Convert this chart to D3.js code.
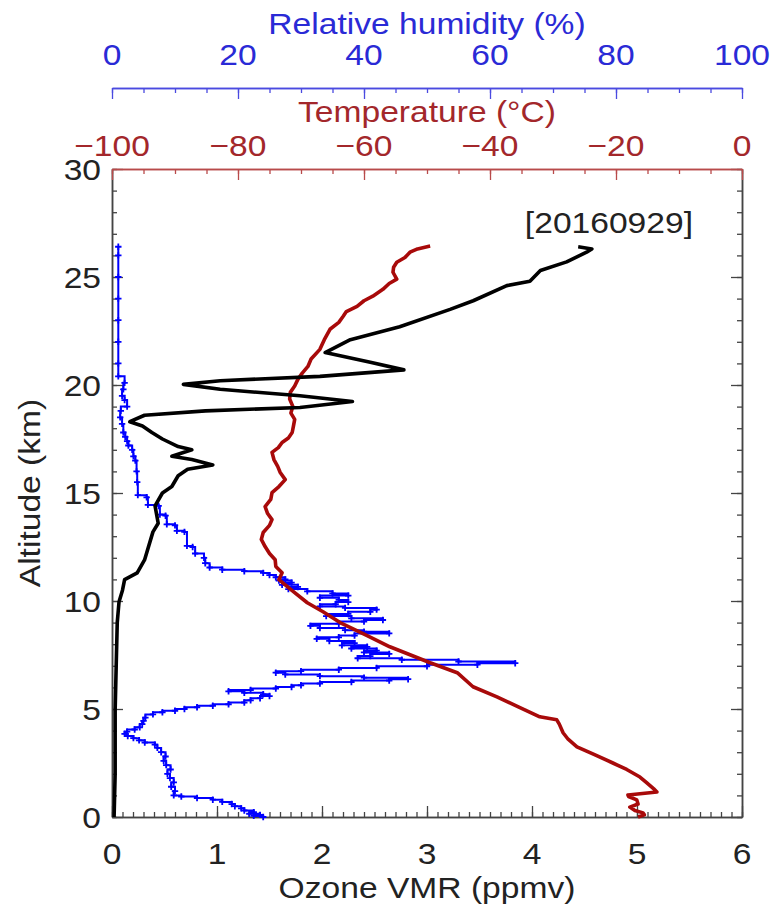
<!DOCTYPE html>
<html>
<head>
<meta charset="utf-8">
<script src="https://cdn.jsdelivr.net/npm/d3@7"></script>
<style>
body { margin: 0; background: #fff; }
text { font-family: "Liberation Sans", Arial, Helvetica, sans-serif; }
</style>
</head>
<body>
<div id="chart"></div>
<script>
// ozone profile (black)
const ozoneAlt = [0.0, 2.0, 4.96, 7.0, 9.0, 9.97, 10.5, 10.99, 11.3, 11.9, 13.2, 13.6, 14.4, 15.0, 15.3, 15.8, 16.1, 16.3,
  16.55, 16.7, 17.0, 17.15, 17.5, 17.8, 18.1, 18.3, 18.6, 18.8, 18.96, 19.24, 19.5, 19.8, 20.03, 20.2, 20.4, 20.7,
  21.05, 21.5, 22.1, 22.7, 23.5, 23.9, 24.6, 24.8, 25.3, 25.7, 26.15, 26.3, 26.4];
const ozoneVmr = [0.02, 0.03, 0.03, 0.04, 0.05, 0.067, 0.10, 0.12, 0.24, 0.31, 0.39, 0.44, 0.41, 0.48, 0.57, 0.63, 0.72, 0.96,
  0.76, 0.57, 0.76, 0.63, 0.48, 0.38, 0.29, 0.17, 0.31, 0.89, 1.79, 2.29, 1.79, 1.03, 0.68, 1.03, 1.98, 2.78,
  2.46, 2.03, 2.27, 2.74, 3.22, 3.44, 3.76, 3.98, 4.08, 4.33, 4.52, 4.57, 4.44];

// temperature profile (dark red)
const tempAlt = [0.0, 0.1, 0.19, 0.3, 0.46, 0.6, 0.79, 0.95, 1.02, 1.16, 1.3, 1.58, 1.85, 2.2, 2.5, 2.9, 3.25, 3.6, 3.9,
  4.3, 4.5, 4.64, 5.1, 5.56, 6.03, 6.68, 7.14, 7.88, 8.4, 9.0, 9.5, 9.92, 10.5, 10.99, 11.31, 11.6, 11.91, 12.2,
  12.52, 12.85, 13.17, 13.5, 13.77, 14.05, 14.37, 14.7, 15.02, 15.3, 15.62, 15.95, 16.23, 16.55, 16.88, 17.1,
  17.34, 17.55, 17.8, 18.1, 18.41, 18.7, 19.01, 19.35, 19.66, 19.95, 20.26, 20.55, 20.86, 21.2, 21.65, 22.1,
  22.58, 22.9, 23.18, 23.4, 23.64, 23.9, 24.11, 24.43, 24.7, 24.9, 25.22, 25.45, 25.68, 25.9, 26.15, 26.3, 26.43];
const tempC = [-16.5, -15.5, -15.7, -17.0, -17.8, -16.5, -16.7, -18.0, -18.1, -13.5, -14.0, -15.1, -16.2, -18.3, -20.5,
  -23.5, -26.2, -27.6, -28.4, -29.0, -29.4, -32.1, -35.5, -38.9, -42.7, -45.2, -49.5, -55.9, -59.5, -63.8, -66.5,
  -69.0, -71.5, -73.5, -73.0, -74.0, -74.1, -75.0, -75.7, -76.3, -76.0, -75.0, -74.6, -75.3, -75.7, -74.8, -74.6,
  -73.5, -72.5, -73.3, -73.7, -74.3, -74.6, -73.6, -73.0, -72.0, -71.4, -71.2, -71.0, -71.6, -71.3, -71.8, -71.7,
  -71.0, -70.5, -69.8, -68.9, -68.4, -67.0, -66.3, -65.4, -64.0, -63.3, -62.8, -61.1, -60.0, -58.6, -57.0, -56.0,
  -54.8, -55.4, -55.3, -54.8, -53.5, -52.7, -51.5, -49.5];

// relative humidity profile (blue)
const rhAlt = [0.0, 0.05, 0.1, 0.15, 0.22, 0.3, 0.4, 0.5, 0.6, 0.7, 0.8, 0.88, 0.95, 1.0, 1.2, 1.4, 1.6, 1.8, 2.0, 2.2,
  2.4, 2.6, 2.8, 3.0, 3.2, 3.35, 3.45, 3.55, 3.65, 3.75, 3.85, 3.95, 4.05, 4.15, 4.3, 4.45, 4.6, 4.75, 4.85, 4.92,
  5.0, 5.08, 5.15, 5.22, 5.3, 5.4, 5.5, 5.6, 5.68, 5.75, 5.82, 5.88, 5.95, 6.02, 6.1, 6.18, 6.25, 6.32, 6.38, 6.45,
  6.52, 6.6, 6.68, 6.75, 6.82, 6.9, 6.98, 7.05, 7.12, 7.2, 7.28, 7.35, 7.45, 7.55, 7.62, 7.7, 7.8, 7.88, 7.95, 8.05,
  8.15, 8.25, 8.32, 8.4, 8.5, 8.58, 8.65, 8.75, 8.85, 8.95, 9.05, 9.12, 9.2, 9.3, 9.4, 9.5, 9.6, 9.68, 9.75, 9.85,
  9.95, 10.05, 10.15, 10.25, 10.35, 10.45, 10.55, 10.65, 10.75, 10.85, 10.95, 11.0, 11.1, 11.2, 11.3, 11.38, 11.45,
  11.55, 11.75, 12.0, 12.2, 12.5, 12.55, 13.2, 13.25, 13.5, 13.55, 13.95, 14.0, 14.4, 14.45, 14.8, 14.9, 15.5, 16.0,
  16.5, 16.7, 17.0, 17.2, 17.4, 17.6, 17.8, 18.2, 18.5, 18.8, 19.0, 19.3, 19.5, 19.8, 20.1, 20.4, 21.0, 22.0, 23.0,
  24.0, 25.0, 26.0, 26.4];
const rhPct = [24.0, 22.5, 23.5, 21.8, 22.5, 21.0, 20.5, 19.5, 19.0, 17.5, 16.0, 13.5, 11.0, 9.8, 10.0, 9.4, 9.8, 9.2, 8.8, 9.3,
  8.6, 8.2, 8.5, 7.8, 7.2, 6.8, 5.2, 4.3, 3.4, 2.5, 2.0, 2.4, 3.6, 4.4, 4.8, 5.0, 5.3, 6.5, 8.0, 10.0,
  11.5, 13.5, 16.0, 18.5, 21.0, 22.0, 23.5, 25.0, 24.0, 21.0, 18.5, 22.0, 26.0, 28.5, 30.0, 33.0, 38.0, 44.0, 47.0, 40.0,
  33.0, 27.5, 26.0, 30.0, 36.0, 42.0, 50.0, 58.0, 64.0, 55.0, 46.0, 39.0, 41.0, 44.0, 40.0, 42.0, 38.0, 40.5, 36.5, 38.5,
  34.5, 32.5, 36.0, 38.5, 44.0, 40.0, 37.0, 33.0, 31.5, 36.0, 40.0, 43.0, 38.0, 34.0, 37.5, 41.0, 42.0, 37.0, 33.0, 35.5,
  37.5, 36.0, 33.0, 37.5, 35.0, 31.0, 28.0, 29.5, 27.0, 28.5, 26.5, 27.5, 26.0, 25.0, 24.0, 21.0, 17.5,
  15.5, 14.8, 14.6, 13.2, 12.8, 11.9, 11.5, 10.3, 10.0, 8.7, 8.5, 7.6, 7.4, 5.7, 5.5, 4.1, 4.0, 3.9,
  3.7, 3.4, 3.2, 2.6, 2.4, 2.1, 1.8, 1.6, 1.3, 1.4, 2.4, 2.0, 1.6, 1.8, 2.0, 1.0, 1.0, 1.0, 1.0,
  1.0, 1.0, 1.0, 1.0];

// tick labels
const altTicks = [0, 5, 10, 15, 20, 25, 30];
const ozoneTicks = [0, 1, 2, 3, 4, 5, 6];
const tempTicks = [-100, -80, -60, -40, -20, 0];
const rhTicks = [0, 20, 40, 60, 80, 100];
const dateLabel = "[20160929]";

const W = 777, H = 911;
const plotLeft = 112, plotRight = 742, plotTop = 169, plotBottom = 817;
const humAxisY = 88;
const stretch = 1.12, fs = 30;

const blueText = "#2a2ad6", redText = "#a3272b";
const blueLine = "#0000ff", redLine = "#a80a0a";

const svg = d3.select("#chart").append("svg")
  .attr("width", W).attr("height", H);

const x = d3.scaleLinear().domain([0, 6]).range([plotLeft, plotRight]);
const t = d3.scaleLinear().domain([-100, 0]).range([plotLeft, plotRight]);
const h = d3.scaleLinear().domain([0, 100]).range([plotLeft, plotRight]);
const y = d3.scaleLinear().domain([0, 30]).range([plotBottom, plotTop]);

const fmt = d3.format("d");

function label(px, py, str, color, anchor, rot) {
  svg.append("text")
    .attr("transform", `translate(${px},${py}) rotate(${rot || 0}) scale(${stretch},1)`)
    .attr("text-anchor", anchor || "middle")
    .attr("fill", color)
    .style("font-size", fs + "px")
    .text(str);
}

// tick marks, inward pointing
function ticks(axisGen, scale, values, size, pos, color) {
  const g = svg.append("g")
    .attr("transform", pos)
    .call(axisGen(scale).tickValues(values).tickSize(-size).tickSizeOuter(0).tickFormat(""));
  g.selectAll("line").attr("stroke", color).attr("stroke-width", 1.3);
  g.select(".domain").attr("stroke", color).attr("stroke-width", 1.5);
  return g;
}

const axisGray = "#444";
// left / right altitude
ticks(d3.axisLeft, y, d3.range(0, 31, 1), 5, `translate(${plotLeft},0)`, axisGray);
ticks(d3.axisLeft, y, altTicks, 11, `translate(${plotLeft},0)`, axisGray);
ticks(d3.axisRight, y, d3.range(0, 31, 1), 5, `translate(${plotRight},0)`, axisGray);
ticks(d3.axisRight, y, altTicks, 11, `translate(${plotRight},0)`, axisGray);
// bottom ozone
ticks(d3.axisBottom, x, d3.range(0, 60.5, 1).map(d => d / 10), 5, `translate(0,${plotBottom})`, axisGray);
ticks(d3.axisBottom, x, ozoneTicks, 11, `translate(0,${plotBottom})`, axisGray);
// top temperature
ticks(d3.axisTop, t, d3.range(-100, 0.5, 5), 5, `translate(0,${plotTop})`, "#b84a4a");
ticks(d3.axisTop, t, tempTicks, 11, `translate(0,${plotTop})`, "#b84a4a");
// humidity axis above
ticks(d3.axisTop, h, d3.range(0, 100.5, 5), 5, `translate(0,${humAxisY})`, "#4a4ae0");
ticks(d3.axisTop, h, rhTicks, 11, `translate(0,${humAxisY})`, "#4a4ae0");

// tick labels
altTicks.forEach(v => label(plotLeft - 11, y(v) + 11, fmt(v), "#222", "end"));
ozoneTicks.forEach(v => label(x(v), 864, fmt(v), "#222"));
tempTicks.forEach(v => label(t(v), 156, fmt(v), redText));
rhTicks.forEach(v => label(h(v), 65, fmt(v), blueText));

// axis titles
label((plotLeft + plotRight) / 2, 898, "Ozone VMR (ppmv)", "#222");
label(40, (plotTop + plotBottom) / 2, "Altitude (km)", "#222", "middle", -90);
label((plotLeft + plotRight) / 2, 122, "Temperature (\u00B0C)", redText);
label((plotLeft + plotRight) / 2, 34, "Relative humidity (%)", blueText);
label(693, 233, dateLabel, "#222", "end");

// humidity: stepped line with plus markers
const rhData = rhAlt.map((a, i) => ({ a: a, v: rhPct[i] }));
svg.append("path")
  .datum(rhData)
  .attr("fill", "none")
  .attr("stroke", blueLine)
  .attr("stroke-width", 2)
  .attr("d", d3.line().curve(d3.curveStepBefore).x(d => h(d.v)).y(d => y(d.a)));
svg.append("g").selectAll("path")
  .data(rhData)
  .join("path")
  .attr("d", d => {
    const cx = h(d.v), cy = y(d.a), s = 3.2;
    return `M${cx - s},${cy}H${cx + s}M${cx},${cy - s}V${cy + s}`;
  })
  .attr("stroke", blueLine)
  .attr("stroke-width", 1.8);

// temperature line
const tData = tempAlt.map((a, i) => ({ a: a, v: tempC[i] }));
svg.append("path")
  .datum(tData)
  .attr("fill", "none")
  .attr("stroke", redLine)
  .attr("stroke-width", 3.6)
  .attr("stroke-linejoin", "round")
  .attr("d", d3.line().x(d => t(d.v)).y(d => y(d.a)));

// ozone line
const oData = ozoneAlt.map((a, i) => ({ a: a, v: ozoneVmr[i] }));
svg.append("path")
  .datum(oData)
  .attr("fill", "none")
  .attr("stroke", "#000")
  .attr("stroke-width", 3.6)
  .attr("stroke-linejoin", "round")
  .attr("d", d3.line().x(d => x(d.v)).y(d => y(d.a)));
</script>
</body>
</html>
